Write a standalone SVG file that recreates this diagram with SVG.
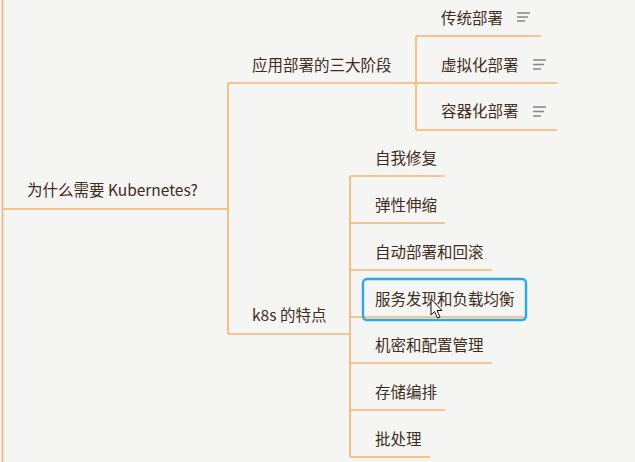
<svg xmlns="http://www.w3.org/2000/svg" width="635" height="462" viewBox="0 0 635 462">
<style>
.ln{stroke:#f6b36e;stroke-width:1.6;fill:none}
.t{font-family:"Noto Sans CJK SC","Microsoft YaHei",sans-serif;font-size:15.5px;fill:#3e2c1c}
.ic{stroke:#8a8580;stroke-width:1.6}
</style>
<rect width="635" height="462" fill="#f5f5f3"/>
<g id="connectors">
<path class="ln" d="M2.5 0V462"/>
<path class="ln" d="M2.5 209H228"/>
<path class="ln" d="M228 83V334"/>
<path class="ln" d="M228 83H416"/>
<path class="ln" d="M228 334H350"/>
<path class="ln" d="M416 36V130"/>
<path class="ln" d="M416 36H541"/>
<path class="ln" d="M416 83H557"/>
<path class="ln" d="M416 130H557"/>
<path class="ln" d="M350 176V457"/>
<path class="ln" d="M350 176H445"/>
<path class="ln" d="M350 223H445"/>
<path class="ln" d="M350 270H492"/>
<path class="ln" d="M350 317H525"/>
<path class="ln" d="M350 363H492"/>
<path class="ln" d="M350 410H445"/>
<path class="ln" d="M350 457H430"/>
</g>
<g id="root"><text class="t" x="27" y="196">为什么需要 Kubernetes?</text></g>
<g id="stages"><text class="t" x="252" y="71">应用部署的三大阶段</text></g>
<g id="traditional"><text class="t" x="441" y="24">传统部署</text>
<path class="ic" d="M517 13H530M517 17H528M517 21H525"/></g>
<g id="virtual"><text class="t" x="441" y="71">虚拟化部署</text>
<path class="ic" d="M533 60H546M533 64.5H544M533 69H541"/></g>
<g id="container"><text class="t" x="441" y="117">容器化部署</text>
<path class="ic" d="M533 107H546M533 111.5H544M533 116H541"/></g>
<g id="features"><text class="t" x="252" y="321">k8s 的特点</text></g>
<g id="selfheal"><text class="t" x="375" y="164">自我修复</text></g>
<g id="scaling"><text class="t" x="375" y="211">弹性伸缩</text></g>
<g id="rollout"><text class="t" x="375" y="258">自动部署和回滚</text></g>
<g id="discovery">
<rect x="363" y="279" width="163" height="41" rx="4" fill="none" stroke="#2aa9e3" stroke-width="2.4"/>
<text class="t" x="375" y="305">服务发现和负载均衡</text></g>
<g id="secret"><text class="t" x="375" y="351">机密和配置管理</text></g>
<g id="storage"><text class="t" x="375" y="398">存储编排</text></g>
<g id="batch"><text class="t" x="375" y="445">批处理</text></g>
<g id="cursor"><path d="M431 299V315L434.5 311.5L437.5 318L440 317L437 310.5H442Z" fill="#fff" stroke="#111" stroke-width="1" stroke-linejoin="round"/></g>
</svg>
